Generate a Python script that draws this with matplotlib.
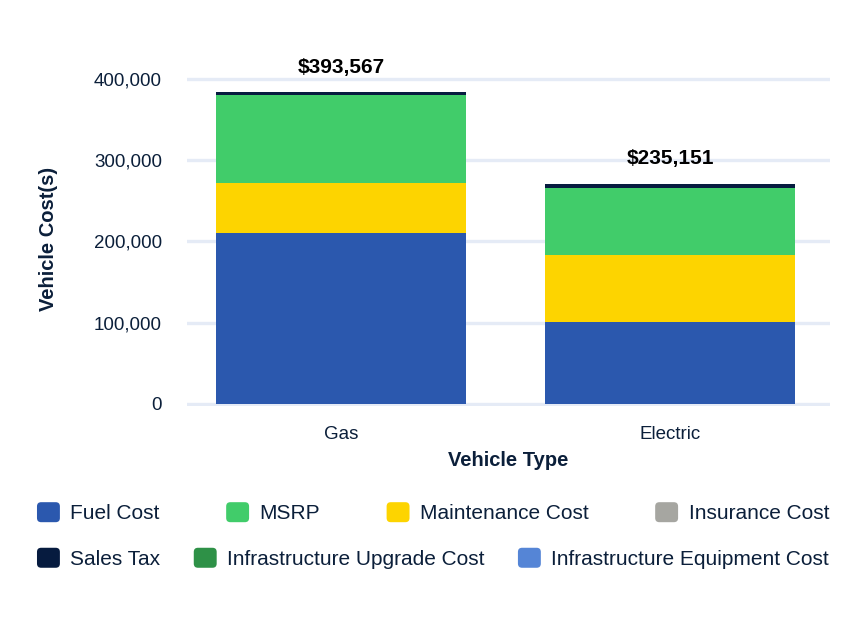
import matplotlib
matplotlib.use('Agg')
import matplotlib.pyplot as plt
from matplotlib.patches import FancyBboxPatch
from matplotlib.legend_handler import HandlerPatch
from matplotlib.ticker import FuncFormatter

plt.rcParams['font.family'] = ['Liberation Sans', 'DejaVu Sans']

# data
vehicle_types = ['Gas', 'Electric']
fuel_cost = [210000, 100500]
maintenance_cost = [61500, 82800]
msrp = [108500, 82000]
sales_tax = [4000, 6000]
insurance_cost = [0, 0]
infra_upgrade_cost = [0, 0]
infra_equipment_cost = [0, 0]
total_labels = ['$393,567', '$235,151']

navy = '#0b1f3a'
colors = {
    'Fuel Cost': '#2b58ae',
    'MSRP': '#41cc6a',
    'Maintenance Cost': '#fdd400',
    'Insurance Cost': '#a6a6a1',
    'Sales Tax': '#061b3f',
    'Infrastructure Upgrade Cost': '#2e9147',
    'Infrastructure Equipment Cost': '#5585d6',
}

fig = plt.figure(figsize=(8.64, 6.33), dpi=100)
ax = fig.add_axes([0.2164, 0.358, 0.7442, 0.530])

x = list(range(len(vehicle_types)))
width = 0.76

# stack order bottom -> top
stack = [
    ('Fuel Cost', fuel_cost),
    ('Maintenance Cost', maintenance_cost),
    ('MSRP', msrp),
    ('Insurance Cost', insurance_cost),
    ('Infrastructure Upgrade Cost', infra_upgrade_cost),
    ('Infrastructure Equipment Cost', infra_equipment_cost),
    ('Sales Tax', sales_tax),
]
bottoms = [0] * len(x)
handles = {}
for name, vals in stack:
    bars = ax.bar(x, vals, width, bottom=bottoms, color=colors[name],
                  label=name, zorder=3, linewidth=0)
    handles[name] = bars
    bottoms = [b + v for b, v in zip(bottoms, vals)]

# total labels above each bar
for xi, top, lab in zip(x, bottoms, total_labels):
    ax.annotate(lab, (xi, top), xytext=(0, 18), textcoords='offset points',
                ha='center', va='center', fontsize=15, fontweight='bold',
                color='black', annotation_clip=False)

ax.set_xlim(-0.468, 1.486)
ax.set_ylim(-3000, 410000)
ax.set_yticks([0, 100000, 200000, 300000, 400000])
ax.yaxis.set_major_formatter(FuncFormatter(lambda v, p: f'{int(v):,}'))
ax.set_xticks(x)
ax.set_xticklabels(vehicle_types)
ax.tick_params(axis='y', length=0, pad=18, labelsize=13.5, labelcolor=navy)
ax.tick_params(axis='x', length=0, pad=14, labelsize=13.5, labelcolor=navy)
ax.grid(axis='y', color='#e5ebf6', linewidth=2.4, zorder=0)
ax.set_axisbelow(True)
for s in ax.spines.values():
    s.set_visible(False)

ax.set_ylabel('Vehicle Cost(s)', fontsize=14.5, fontweight='bold', color=navy, labelpad=26)
ax.set_xlabel('Vehicle Type', fontsize=14.5, fontweight='bold', color=navy, labelpad=6)


def rounded_square(legend, orig_handle, xdescent, ydescent, width, height, fontsize):
    return FancyBboxPatch((-xdescent, -ydescent), width, height,
                          boxstyle='round,pad=0,rounding_size=3')


handler = {type(handles['Fuel Cost'].patches[0]): HandlerPatch(patch_func=rounded_square)}

row1 = ['Fuel Cost', 'MSRP', 'Maintenance Cost', 'Insurance Cost']
row2 = ['Sales Tax', 'Infrastructure Upgrade Cost', 'Infrastructure Equipment Cost']
for row, y0 in [(row1, 0.19), (row2, 0.118)]:
    fig.legend([handles[n].patches[0] for n in row], row, ncol=len(row),
               loc='center left', bbox_to_anchor=(0.0428, y0, 0.9167, 0.0),
               mode='expand', frameon=False, fontsize=15, labelcolor=navy,
               handlelength=1.1, handleheight=1.1, handletextpad=0.5,
               borderpad=0, borderaxespad=0, handler_map=handler)

fig.savefig('out.png', dpi=100)
